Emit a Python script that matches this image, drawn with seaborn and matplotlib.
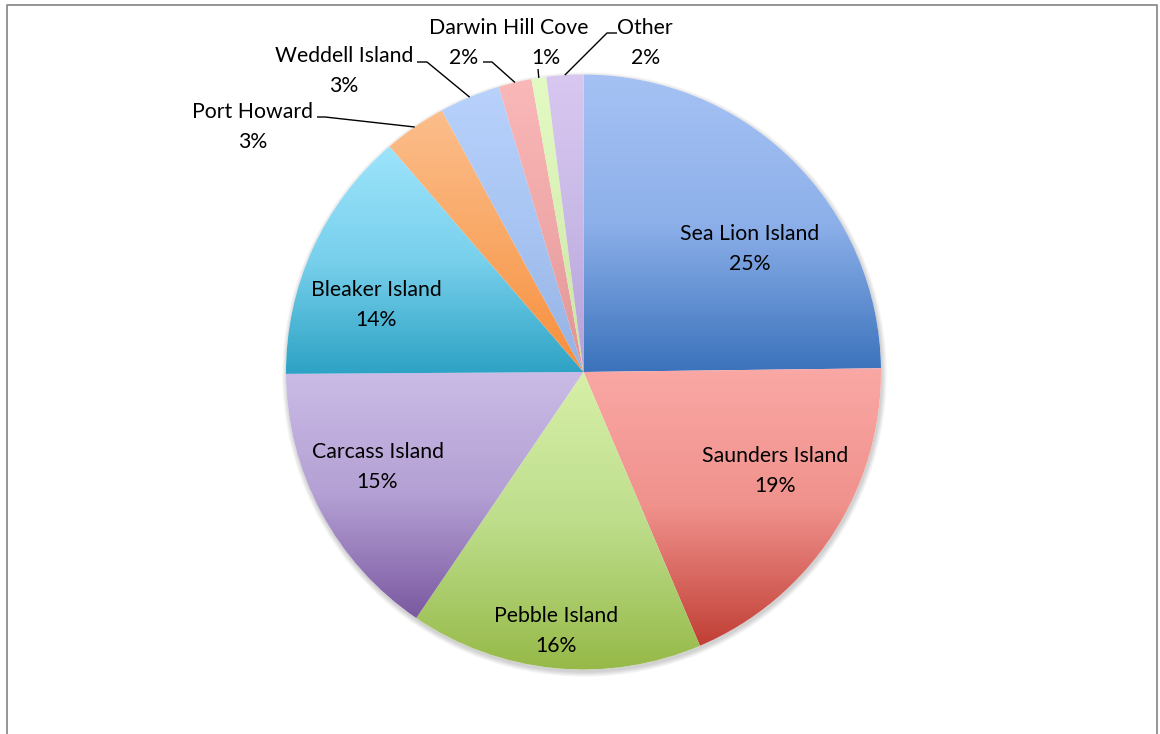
import numpy as np
import matplotlib
matplotlib.use("Agg")
import matplotlib.pyplot as plt
from matplotlib.patches import Circle
import seaborn as sns

# Share of visits per location (percent), clockwise from 12 o'clock
locations = ["Sea Lion Island", "Saunders Island", "Pebble Island", "Carcass Island",
             "Bleaker Island", "Port Howard", "Weddell Island", "Darwin", "Hill Cove", "Other"]
shares = [24.8, 18.8, 15.9, 15.4, 13.8, 3.4, 3.3, 1.8, 0.8, 2.0]

# Vertical gradient stops for each slice: top, middle, bottom
top_colors = ["#a6c2f4", "#faa8a5", "#d7f0a8", "#cabce6", "#9ee4fc",
              "#fcbe8c", "#b8d2fc", "#fab8b8", "#e4fac4", "#d8c8f0"]
mid_colors = ["#8db0ea", "#f0918c", "#bede8c", "#b4a0d4", "#78d0ec",
              "#f9a865", "#a8c4f2", "#f0a8a8", "#d8f0b4", "#c8b8e6"]
bottom_colors = ["#3a72bb", "#c03e34", "#96b948", "#7a58a0", "#2ca2c4",
                 "#f78e3c", "#94b2e4", "#e09494", "#c8e4a0", "#b4a0d8"]

sns.set_theme(style="white")
plt.rcParams["font.family"] = ["Lato", "DejaVu Sans"]

W, H = 1160, 734
FS = 15.3


def px(x, y):
    """Convert top-left pixel coordinates to the axes' data coordinates."""
    return x, H - y


fig = plt.figure(figsize=(W / 100, H / 100), dpi=100)
ax = fig.add_axes([0, 0, 1, 1])

center = px(583.5, 372)
R = 297.5

# soft drop shadow behind the pie
for k in range(6):
    ax.add_patch(Circle((center[0] + 1, center[1] - 2.5), R + 0.3 + k * 0.9,
                        facecolor="#000000", edgecolor="none", alpha=0.03, zorder=0))
ax.add_patch(Circle(center, R, facecolor="white", edgecolor="none", zorder=0.5))

wedges, _ = ax.pie(shares, startangle=90, counterclock=False, center=center, radius=R,
                   wedgeprops=dict(linewidth=0))

ramp = np.linspace(0, 1, 256).reshape(-1, 1)
for w, c0, c1, c2 in zip(wedges, top_colors, mid_colors, bottom_colors):
    w.set_facecolor("none")
    w.set_zorder(2)
    bb = w.get_path().get_extents()
    cmap = sns.blend_palette([c0, c1, c2], n_colors=256, as_cmap=True)
    im = ax.imshow(ramp, cmap=cmap, origin="upper", aspect="auto", interpolation="bilinear",
                   extent=(bb.x0 - 1, bb.x1 + 1, bb.y0 - 1, bb.y1 + 1), zorder=1)
    im.set_clip_path(w)

ax.set_xlim(0, W)
ax.set_ylim(0, H)
ax.set_aspect("auto")
ax.axis("off")

pct = [f"{round(v / sum(shares) * 100)}%" for v in shares]

# label block centres (pixel coordinates: name line, percentage line 30 px below)
label_pos = {
    "Sea Lion Island": (750, 233.5),
    "Saunders Island": (775, 456.5),
    "Pebble Island": (556, 616.5),
    "Carcass Island": (377.5, 452.5),
    "Bleaker Island": (376, 290.5),
    "Port Howard": (252.5, 111.5),
    "Weddell Island": (343.7, 56.5),
    "Darwin": (463.5, 28.5),
    "Hill Cove": (546, 28.5),
    "Other": (645, 28.5),
}
pct_dx = {"Other": 1}

for name, p in zip(locations, pct):
    x, y = label_pos[name]
    ax.text(*px(x, y), name, ha="center", va="center", fontsize=FS, color="black", zorder=5)
    ax.text(*px(x + pct_dx.get(name, 0), y + 30), p, ha="center", va="center",
            fontsize=FS, color="black", zorder=5)

# leader lines from outside labels to the middle of their slice's arc
leader_start = {
    "Port Howard": [(317, 117), (325, 117)],
    "Weddell Island": [(417, 62), (427, 62)],
    "Darwin": [(483, 62), (492, 62)],
    "Hill Cove": [(538, 69)],
    "Other": [(617, 33), (607, 33)],
}
for w, name in zip(wedges, locations):
    if name not in leader_start:
        continue
    mid = np.deg2rad((w.theta1 + w.theta2) / 2)
    ex, ey = center[0] + R * np.cos(mid), center[1] + R * np.sin(mid)
    pts = [px(*p) for p in leader_start[name]] + [(ex, ey)]
    xs, ys = zip(*pts)
    ax.plot(xs, ys, color="black", linewidth=1.0, zorder=4, solid_capstyle="butt")

# chart frame
fx0, fx1, fy = 6.5, 1157, 4.5
ax.plot([fx0, fx0, fx1, fx1], [0, H - fy, H - fy, 0], color="#8c8c8c", linewidth=1.3,
        zorder=6, clip_on=False)

fig.savefig("out.png", dpi=100)
